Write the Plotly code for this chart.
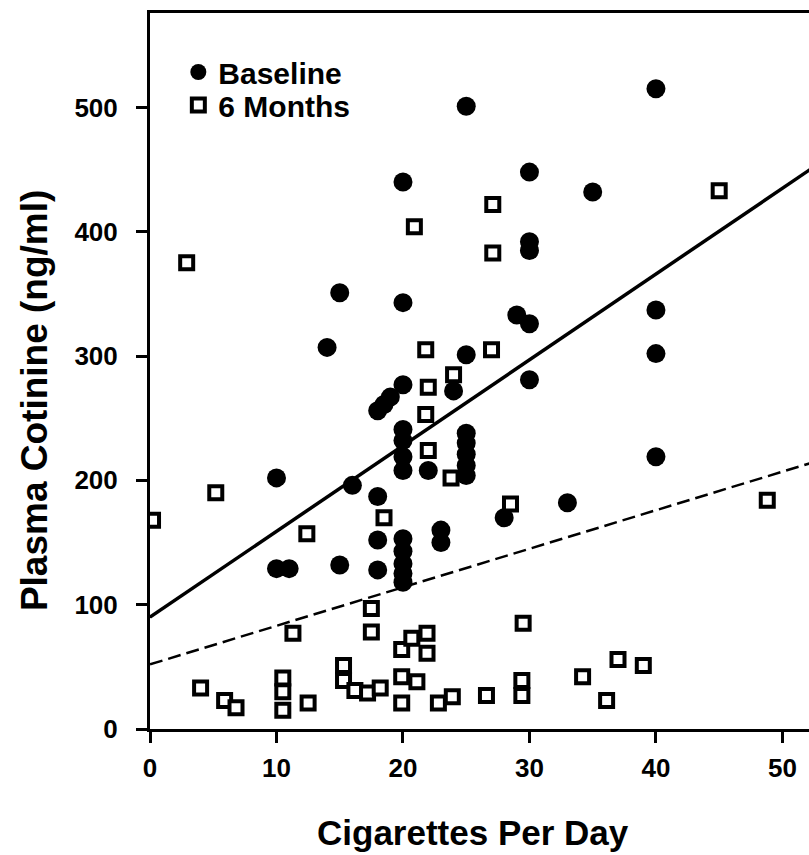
import plotly.graph_objects as go

# ---- data ----
baseline_x = [10, 10, 11, 14, 15, 15, 16, 18, 18, 18, 18, 18.5, 19, 20, 20, 20,
              20, 20, 20, 20, 20, 20, 20, 20, 20, 22, 23, 23, 24, 25, 25, 25,
              25, 25, 25, 25, 28, 29, 30, 30, 30, 30, 30, 33, 35, 40, 40, 40, 40]
baseline_y = [202, 129, 129, 307, 351, 132, 196, 256, 187, 152, 128, 261, 267, 277, 440, 343,
              241, 232, 219, 208, 153, 143, 133, 125, 118, 208, 160, 150, 272, 501, 301, 238,
              230, 221, 212, 204, 170, 333, 448, 392, 385, 326, 281, 182, 432, 515, 337, 302, 219]

month6_x = [0.2, 2.9, 4, 5.2, 5.9, 6.8, 10.5, 10.5, 10.5, 11.3, 12.4, 12.5, 15.3, 15.3, 16.2,
            17.2, 17.5, 17.5, 18.2, 18.5, 19.9, 19.9, 19.9, 20.7, 21.1, 20.9, 21.8, 21.9,
            21.9, 22, 21.8, 22, 22.8, 23.9, 24, 23.8, 26.6, 27, 27.1, 27.1, 28.5, 29.4,
            29.4, 29.5, 34.2, 36.1, 37, 39, 45, 48.8]
month6_y = [168, 375, 33, 190, 23, 17, 41, 30, 15, 77, 157, 21, 51, 39, 31,
            29, 97, 78, 33, 170, 64, 42, 21, 73, 38, 404, 305, 77,
            61, 275, 253, 224, 21, 26, 285, 202, 27, 305, 422, 383, 181, 39,
            27, 85, 42, 23, 56, 51, 433, 184]

# regression lines (intercept, slope)
baseline_fit = (90, 6.9)
month6_fit = (52, 3.1)
fit_x = [0, 53]

x_ticks = [0, 10, 20, 30, 40, 50]
y_ticks = [0, 100, 200, 300, 400, 500]
x_range = [0, 52.1]
y_range = [0, 576]

FONT = "Liberation Sans, Arial, sans-serif"

fig = go.Figure()

fig.add_trace(go.Scatter(
    x=fit_x, y=[baseline_fit[0] + baseline_fit[1] * v for v in fit_x],
    mode="lines", line=dict(color="black", width=3.5), showlegend=False, hoverinfo="skip"))
fig.add_trace(go.Scatter(
    x=fit_x, y=[month6_fit[0] + month6_fit[1] * v for v in fit_x],
    mode="lines", line=dict(color="black", width=2.5, dash="13px,6px"),
    showlegend=False, hoverinfo="skip"))

fig.add_trace(go.Scatter(
    x=baseline_x, y=baseline_y, mode="markers", name="Baseline", legend="legend",
    marker=dict(symbol="circle", size=19, color="black", line=dict(width=0))))
fig.add_trace(go.Scatter(
    x=month6_x, y=month6_y, mode="markers", name="6 Months", legend="legend2",
    marker=dict(symbol="square", size=13, color="white", line=dict(color="black", width=4))))

legend_style = dict(xanchor="left", yanchor="middle", bgcolor="rgba(0,0,0,0)",
                    font=dict(size=30, family=FONT, weight="bold"), itemsizing="trace")

fig.update_layout(
    width=809, height=855,
    margin=dict(l=150, r=0, t=13, b=126),
    plot_bgcolor="white", paper_bgcolor="white",
    font=dict(family=FONT, color="black"),
    legend=dict(x=0.043, y=0.9176, **legend_style),
    legend2=dict(x=0.043, y=0.8715, **legend_style),
    annotations=[
        dict(text="Cigarettes Per Day", x=0.49, y=-0.145, xref="paper", yref="paper",
             showarrow=False, xanchor="center", yanchor="middle",
             font=dict(size=35, family=FONT, weight="bold")),
        dict(text="Plasma Cotinine (ng/ml)", x=-0.176, y=0.458, xref="paper", yref="paper",
             showarrow=False, xanchor="center", yanchor="middle", textangle=-90,
             font=dict(size=37, family=FONT, weight="bold")),
    ],
)

fig.update_xaxes(range=x_range, tickvals=x_ticks, ticks="outside", ticklen=11, tickwidth=3,
                 tickcolor="black", showline=True, linewidth=3, linecolor="black", mirror=True,
                 showgrid=False, zeroline=False,
                 tickfont=dict(size=26, family=FONT, weight="bold"), ticklabelstandoff=3)
fig.update_yaxes(range=y_range, tickvals=y_ticks, ticks="outside", ticklen=11, tickwidth=3,
                 tickcolor="black", showline=True, linewidth=3, linecolor="black", mirror=False,
                 showgrid=False, zeroline=False,
                 tickfont=dict(size=26, family=FONT, weight="bold"), ticklabelstandoff=13)

fig.write_html("out.html", config={"displayModeBar": False},
               post_script="document.body.style.margin='0';document.documentElement.style.overflow='hidden';")
